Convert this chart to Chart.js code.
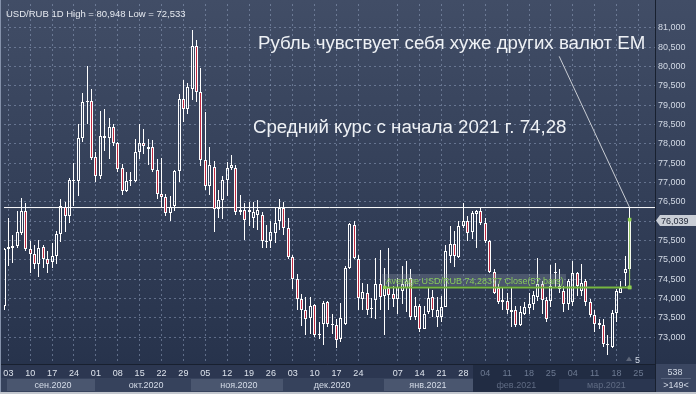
<!DOCTYPE html>
<html>
<head>
<meta charset="utf-8">
<script src="https://cdn.jsdelivr.net/npm/chart.js@4.4.1/dist/chart.umd.min.js"></script>
<style>
html,body{margin:0;padding:0;background:#2e3a54;}
#wrap{width:696px;height:394px;position:relative;overflow:hidden;}
canvas{display:block;}
</style>
</head>
<body>
<div id="wrap"><canvas id="c" width="696" height="394"></canvas></div>
<script>
// ---- Data: USD/RUB daily candles, one per trading day (Sep 2 2020 .. Mar 23 2021) ----
const opens = [73.80,75.29,75.31,75.36,75.69,76.26,75.28,75.16,74.90,75.33,75.01,74.95,75.09,75.66,76.37,76.12,77.03,77.03,78.16,79.08,79.10,
77.65,77.16,78.20,78.14,78.43,78.03,77.37,76.78,77.03,77.03,77.79,78.02,77.86,77.91,77.31,76.69,76.61,76.20,76.39,77.29,79.16,78.89,
79.42,80.53,79.33,77.59,76.90,77.41,76.31,76.54,77.05,77.38,77.38,76.24,76.29,76.24,76.07,76.16,76.17,75.48,75.48,75.69,76.00,
76.33,75.82,75.07,74.50,73.98,73.69,73.50,73.84,73.05,73.34,73.90,73.34,73.30,72.94,73.33,74.79,75.90,75.03,73.98,74.13,73.75,73.97,74.37,
74.07,74.28,74.11,73.98,74.20,74.28,74.54,73.51,73.80,73.22,73.66,74.03,73.51,73.51,73.79,75.09,75.41,75.07,75.88,76.00,
75.71,76.18,76.27,75.94,75.48,74.69,74.28,73.90,73.94,73.70,73.69,73.30,73.60,73.75,73.86,74.04,74.37,73.96,73.94,74.66,
74.24,74.20,73.86,73.90,74.65,74.20,74.45,73.90,73.56,73.32,73.32,72.81,72.75,73.63,74.15,74.67,74.75];
const highs = [75.31,76.07,75.65,76.26,76.60,76.47,75.48,75.39,75.52,75.39,75.22,75.43,75.75,76.58,76.50,77.11,77.50,78.52,79.31,80.01,79.41,
77.78,78.84,78.90,78.67,78.50,78.05,77.48,77.27,77.27,78.12,78.50,78.37,78.12,78.09,77.61,77.62,76.71,76.64,77.33,79.29,79.64,79.58,
80.948,80.69,79.97,78.82,77.92,77.56,76.80,77.16,77.52,77.71,77.44,76.67,76.46,76.50,76.50,76.54,76.24,75.90,75.99,76.33,76.58,
76.50,76.07,75.13,74.64,74.11,74.03,74.03,73.86,73.39,73.94,73.94,73.60,73.47,73.87,74.84,75.95,75.99,75.13,74.41,74.37,74.00,75.05,75.26,
74.79,75.31,74.33,74.54,74.84,74.96,74.75,74.03,73.86,73.81,74.28,74.21,74.03,74.07,75.39,75.86,75.75,76.00,76.46,76.12,
76.27,76.29,76.33,76.07,75.52,74.75,74.37,74.28,74.15,74.28,73.81,73.81,73.90,74.15,74.18,75.05,74.45,74.03,74.86,74.92,
74.75,74.32,74.50,74.96,74.68,74.88,74.50,73.98,73.69,73.47,73.47,73.05,73.69,74.24,74.45,75.09,76.33];
const lows = [73.69,74.84,74.92,75.31,75.65,75.22,74.67,74.75,74.56,74.79,74.65,74.79,74.88,75.45,75.73,75.94,76.39,76.64,78.05,78.50,77.58,
77.01,77.10,77.82,77.61,77.93,77.27,76.67,76.75,76.92,77.01,77.61,77.73,77.44,77.27,76.57,76.37,76.12,76.00,76.26,77.01,78.57,78.76,
79.14,79.07,77.42,76.81,76.67,75.73,76.07,76.05,76.64,77.31,76.16,76.16,75.52,75.86,75.82,75.77,75.31,75.31,75.31,75.43,75.77,
75.65,75.03,74.24,73.69,73.28,73.05,73.09,73.00,72.95,72.79,73.26,73.09,72.71,72.88,73.30,74.75,75.01,73.69,73.69,73.56,73.50,73.47,73.69,
73.05,73.69,73.77,73.60,73.86,73.64,73.43,73.43,73.13,73.22,73.60,73.51,73.26,73.39,73.77,74.92,74.81,75.05,75.82,75.48,
75.54,75.31,75.90,75.43,74.67,74.11,73.86,73.69,73.60,73.26,73.26,73.28,73.56,73.60,73.69,73.94,73.60,73.39,73.77,74.28,
74.15,73.64,73.69,73.81,74.07,74.07,73.81,73.51,73.13,73.22,72.75,72.533,72.71,73.39,74.15,74.32,74.70];
const closes = [75.28,75.32,75.36,75.71,76.26,75.28,75.16,74.90,75.31,75.01,74.90,75.09,75.66,76.39,76.12,77.05,77.06,78.14,79.08,79.10,77.63,
77.16,78.20,78.14,78.43,78.03,77.35,76.77,77.03,77.04,77.79,78.03,77.93,77.91,77.31,76.69,76.61,76.20,76.37,77.29,79.16,78.89,79.47,
80.53,79.33,77.59,76.90,77.44,76.31,76.54,77.05,77.37,77.44,76.24,76.29,76.03,76.29,76.24,76.29,75.48,75.45,75.73,75.94,76.33,
75.82,75.07,74.50,73.98,73.69,73.47,73.81,73.05,73.08,73.87,73.34,73.30,72.92,73.49,74.79,75.92,75.05,74.00,74.16,73.69,73.72,74.37,74.03,
74.33,74.09,73.98,74.30,74.37,74.45,73.51,73.80,73.22,73.60,74.01,73.69,73.70,73.79,75.22,75.41,75.09,75.88,76.00,75.69,
76.20,76.27,75.94,75.48,74.69,74.15,73.90,73.96,73.69,73.64,73.30,73.64,73.77,73.86,74.09,74.37,73.96,73.47,74.33,74.69,
74.31,73.86,74.45,74.65,74.32,74.39,73.90,73.56,73.34,73.36,72.81,72.79,73.63,74.20,74.28,74.75,76.039];

// x-axis: bar index of every Thursday, and its day-of-month label
const dayTickIndex = [1,6,11,16,21,26,31,36,41,46,51,56,61,66,71,76,81,90,95,100,105,110,115,120,125,130,135,140,145];
const dayTickLabels = ['03','10','17','24','01','08','15','22','29','05','12','19','26','03','10','17','24','07','14','21','28','04','11','18','25','04','11','18','25'];
// month labels and where they sit (bar index)
const monthLabels = ['сен.2020','окт.2020','ноя.2020','дек.2020','янв.2021','фев.2021','мар.2021'];
const monthTickIndex = [11.2,32.5,53.7,75,96.9,117.1,137.7];
// y-axis tick values
const yTickValues = [73,73.5,74,74.5,75,75.5,76,76.5,77,77.5,78,78.5,79,79.5,80,80.5,81];

// studies / annotations
const avgValue = 74.28377, avgFrom = 87, avgTo = 143;
const levelLine = 76.35;
const arrowLine = [{x:126.9, y:80.26}, {x:143, y:76.35}];
const notes = [
  {text:'Рубль чувствует себя хуже других валют ЕМ', x:58.05, y:80.463},
  {text:'Средний курс с начала 2021 г. 74,28', x:56.9, y:78.289}
];
const headerText = 'USD/RUB 1D High = 80,948 Low = 72,533';
const avgLabel = 'Average USD/RUB 74,28377 Close(57 bars)';

const FONT = '"Liberation Sans", Arial, sans-serif';
const xMin = 0, xMax = 148.8, yMin = 72.304, yMax = 81.614;
const brightBands = [[-1,20.8],[42.8,63.8],[86.8,107.3]];
const dimFrom = 107.3, marBand = [126.8, 148.8];

const idx = opens.map((_, i) => i);
const bodyData = idx.map(i => ({x:i, y:[opens[i], closes[i]]}));
const upperWick = idx.map(i => ({x:i, y:[Math.max(opens[i], closes[i]), highs[i]]}));
const lowerWick = idx.map(i => ({x:i, y:[lows[i], Math.min(opens[i], closes[i])]}));
const bodyFill = idx.map(i => closes[i] >= opens[i] ? 'rgba(0,0,0,0)' : '#c0283f');

const gridColor = 'rgba(150,166,196,0.5)';

// snap candle elements to whole pixels so they stay crisp
const snap = {
  id: 'snap',
  afterDatasetsUpdate(chart) {
    chart.data.datasets.forEach((ds, di) => {
      const meta = chart.getDatasetMeta(di);
      if (meta.type !== 'bar') return;
      meta.data.forEach(el => {
        el.x = Math.floor(el.x) + 0.5;
        let top = Math.round(el.y), base = Math.round(el.base);
        if (ds.label === 'body' && Math.abs(top - base) < 1) { base = top + 1; }
        el.y = top; el.base = base;
      });
    });
  }
};

const decor = {
  id: 'decor',
  beforeDraw(chart) {
    const {ctx, chartArea: ca, scales: {x}} = chart;
    const W = chart.width, H = chart.height;
    ctx.save();
    const g = ctx.createLinearGradient(0, 0, 0, ca.bottom);
    g.addColorStop(0, '#414d66');
    g.addColorStop(1, '#27334c');
    ctx.fillStyle = g;
    ctx.fillRect(0, 0, W, ca.bottom);
    const r1 = ca.bottom, r2 = ca.bottom + 14, r3 = ca.bottom + 28;
    ctx.fillStyle = '#2c3751'; ctx.fillRect(0, r1, ca.right, 14);
    ctx.fillStyle = '#36425c'; ctx.fillRect(0, r2, ca.right, 14);
    ctx.fillStyle = '#4a566f';
    brightBands.forEach(([a, b]) => {
      const xa = Math.max(x.getPixelForValue(a), ca.left + 3);
      const xb = Math.min(x.getPixelForValue(b), ca.right);
      ctx.fillRect(Math.round(xa), r2 + 1, Math.round(xb - xa), 12);
    });
    const xd = Math.round(x.getPixelForValue(dimFrom));
    ctx.fillStyle = '#212c43'; ctx.fillRect(xd, r1 + 1, ca.right - xd, 27);
    const xm = Math.round(x.getPixelForValue(marBand[0]));
    ctx.fillStyle = '#2a3650'; ctx.fillRect(xm, r2 + 1, ca.right - xm, 12);
    ctx.fillStyle = '#3a4661'; ctx.fillRect(ca.right, r1, W - ca.right, 28);
    ctx.fillStyle = '#c3c7ce'; ctx.fillRect(0, r3, W, H - r3);
    ctx.restore();
  },
  afterDatasetsDraw(chart) {
    const {ctx, chartArea: ca, scales: {x, y}} = chart;
    ctx.save();
    // average label
    const ax = x.getPixelForValue(avgFrom), ay = y.getPixelForValue(avgValue);
    ctx.font = '9px ' + FONT;
    const tw = ctx.measureText(avgLabel).width;
    ctx.fillStyle = 'rgba(150,160,172,0.30)';
    ctx.fillRect(Math.round(ax - 3), Math.round(ay - 13.5), Math.round(tw + 6), 12);
    ctx.fillStyle = '#86c95a';
    ctx.textBaseline = 'alphabetic'; ctx.textAlign = 'left';
    ctx.fillText(avgLabel, ax + 1, ay - 3);
    // big notes
    ctx.font = '18.7px ' + FONT;
    ctx.fillStyle = '#eef1f5';
    notes.forEach(n => ctx.fillText(n.text, x.getPixelForValue(n.x), y.getPixelForValue(n.y)));
    // header
    ctx.font = '9.5px ' + FONT;
    ctx.fillStyle = '#e6eaf0';
    ctx.fillText(headerText, ca.left + 2, ca.top + 12.5);
    ctx.restore();
  },
  afterDraw(chart) {
    const {ctx, chartArea: ca, scales: {y}} = chart;
    const W = chart.width;
    ctx.save();
    // frame lines
    ctx.strokeStyle = '#18202f'; ctx.lineWidth = 1;
    ctx.beginPath();
    ctx.moveTo(0, ca.bottom + 0.5); ctx.lineTo(ca.right, ca.bottom + 0.5);
    ctx.moveTo(ca.right + 0.5, 0); ctx.lineTo(ca.right + 0.5, ca.bottom + 28);
    ctx.stroke();
    ctx.strokeStyle = '#8592ab';
    ctx.beginPath(); ctx.moveTo(0.5, 0); ctx.lineTo(0.5, ca.bottom + 28); ctx.stroke();
    // last price marker
    const last = closes[closes.length - 1];
    const yc = Math.round(y.getPixelForValue(last)) + 0.5;
    ctx.fillStyle = '#c9ced6';
    ctx.beginPath();
    ctx.moveTo(ca.right + 1, yc);
    ctx.lineTo(ca.right + 5, yc - 5.5);
    ctx.lineTo(W, yc - 5.5);
    ctx.lineTo(W, yc + 5.5);
    ctx.lineTo(ca.right + 5, yc + 5.5);
    ctx.closePath(); ctx.fill();
    ctx.font = '9px ' + FONT;
    ctx.fillStyle = '#1e2535';
    ctx.textAlign = 'left'; ctx.textBaseline = 'alphabetic';
    ctx.fillText(last.toFixed(3).replace('.', ','), ca.right + 6, yc + 3.5);
    // bottom-right info cell
    ctx.fillStyle = '#d3dae6';
    ctx.textAlign = 'center';
    ctx.fillText('538', ca.right + 20, ca.bottom + 11);
    ctx.fillText('>149<', ca.right + 21, ca.bottom + 24);
    ctx.strokeStyle = '#56627c';
    ctx.beginPath(); ctx.moveTo(ca.right + 6, ca.bottom + 14.5); ctx.lineTo(ca.right + 36, ca.bottom + 14.5); ctx.stroke();
    // small marker near bottom
    ctx.fillStyle = '#5d6679';
    ctx.beginPath();
    ctx.moveTo(ca.right - 29, ca.bottom - 3); ctx.lineTo(ca.right - 26, ca.bottom - 7.5); ctx.lineTo(ca.right - 23, ca.bottom - 3);
    ctx.closePath(); ctx.fill();
    ctx.fillStyle = '#d3dae6';
    ctx.textAlign = 'left';
    ctx.fillText('5', ca.right - 20, ca.bottom - 1.5);
    ctx.restore();
  }
};

const noPad = s => { s.paddingLeft = 0; s.paddingRight = 0; s.paddingTop = 0; s.paddingBottom = 0; };

new Chart(document.getElementById('c'), {
  type: 'bar',
  data: {
    datasets: [
      { type:'line', label:'avg', data:[{x:avgFrom, y:avgValue}, {x:avgTo, y:avgValue}],
        borderColor:'#76b63f', borderWidth:2, pointStyle:'rect', pointRadius:2.5,
        pointBackgroundColor:'#8fd052', pointBorderWidth:0, order:0 },
      { type:'line', label:'avgv', data:[{x:avgTo, y:avgValue}, {x:avgTo, y:closes[closes.length-1]}],
        borderColor:'#9fd468', borderWidth:1, pointStyle:'rect', pointRadius:2.5,
        pointBackgroundColor:'#8fd052', pointBorderWidth:0, order:0 },
      { label:'body', data: bodyData, backgroundColor: bodyFill, borderColor:'#ffffff', borderWidth:1,
        borderSkipped:false, barThickness:3, minBarLength:1, grouped:false, inflateAmount:0, order:1 },
      { label:'wickU', data: upperWick, backgroundColor:'#ffffff', borderWidth:0,
        barThickness:1, grouped:false, inflateAmount:0, order:2 },
      { label:'wickL', data: lowerWick, backgroundColor:'#ffffff', borderWidth:0,
        barThickness:1, grouped:false, inflateAmount:0, order:2 },
      { type:'line', label:'level', data:[{x:xMin, y:levelLine}, {x:xMax, y:levelLine}],
        borderColor:'#ffffff', borderWidth:1, pointRadius:0, order:3 },
      { type:'line', label:'arrow', data: arrowLine,
        borderColor:'#c9cdd4', borderWidth:1, pointRadius:0, order:3 }
    ]
  },
  options: {
    responsive:false, animation:false, events:[],
    devicePixelRatio:1,
    layout:{ padding:{ left:2, right:0, top:0, bottom:2 } },
    plugins:{ legend:{display:false}, tooltip:{enabled:false} },
    scales:{
      x:{ type:'linear', min:xMin, max:xMax, offset:false, position:'bottom', weight:0,
        afterBuildTicks: s => { s.ticks = dayTickIndex.map(v => ({value:v})); },
        afterFit: s => { s.height = 14; noPad(s); },
        grid:{ color:gridColor, lineWidth:1, drawTicks:false, offset:false },
        border:{ display:false, dash:[2,3] },
        ticks:{ autoSkip:false, maxRotation:0, padding:4, font:{family:FONT, size:9},
          color: c => (c.tick && c.tick.value > dimFrom) ? '#6d7a92' : '#dde3ec',
          callback: (v, i) => dayTickLabels[i] }
      },
      x2:{ type:'linear', min:xMin, max:xMax, offset:false, position:'bottom', weight:1,
        afterBuildTicks: s => { s.ticks = monthTickIndex.map(v => ({value:v})); },
        afterFit: s => { s.height = 14; noPad(s); },
        grid:{ display:false, drawTicks:false },
        border:{ display:false },
        ticks:{ autoSkip:false, maxRotation:0, padding:2, font:{family:FONT, size:9},
          color: c => (c.tick && c.tick.value > dimFrom) ? '#5f6b83' : '#d5dce8',
          callback: (v, i) => monthLabels[i] }
      },
      y:{ position:'right', min:yMin, max:yMax,
        afterBuildTicks: s => { s.ticks = yTickValues.map(v => ({value:v})); },
        afterFit: s => { s.width = 41; noPad(s); },
        grid:{ color:gridColor, lineWidth:1, drawTicks:false },
        border:{ display:false, dash:[2,3] },
        ticks:{ padding:3, font:{family:FONT, size:9}, color:'#d3dae6',
          callback: v => Number(v).toFixed(3).replace('.', ',') }
      }
    }
  },
  plugins:[snap, decor]
});
</script>
</body>
</html>
